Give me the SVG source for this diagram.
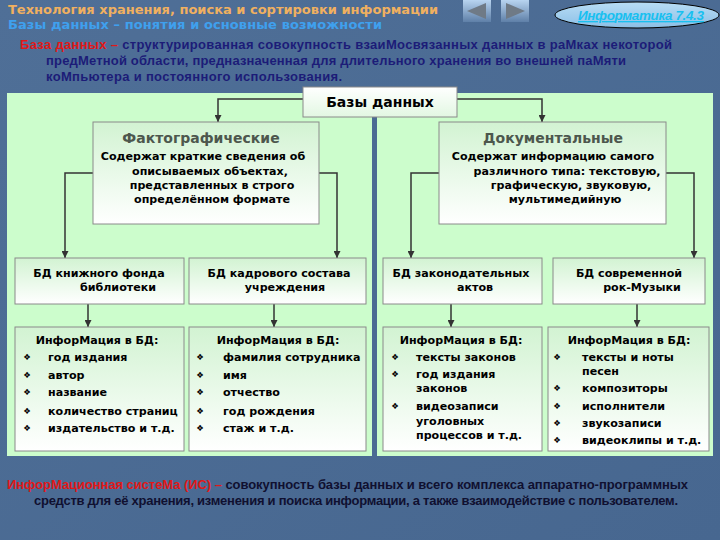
<svg xmlns="http://www.w3.org/2000/svg" width="720" height="540" viewBox="0 0 720 540">
<defs>
<linearGradient id="bg" x1="0" y1="0" x2="1" y2="1"><stop offset="0" stop-color="#4f6f97"/><stop offset="1" stop-color="#476790"/></linearGradient>
<linearGradient id="box" x1="0" y1="0" x2="0" y2="1"><stop offset="0" stop-color="#d2f3d2"/><stop offset="1" stop-color="#ffffff"/></linearGradient>
<linearGradient id="hdr" x1="0" y1="0" x2="0" y2="1"><stop offset="0" stop-color="#ffffff"/><stop offset="1" stop-color="#e2f7e2"/></linearGradient>
<linearGradient id="btn" x1="0" y1="0" x2="0" y2="1"><stop offset="0" stop-color="#b8d4f0"/><stop offset="1" stop-color="#5f80a8"/></linearGradient>
<linearGradient id="ov" x1="0" y1="0" x2="0" y2="1"><stop offset="0" stop-color="#b8ddf5"/><stop offset="1" stop-color="#8cbfe6"/></linearGradient>
<marker id="ar" viewBox="0 0 10 10" refX="10" refY="5" markerWidth="9" markerHeight="7" markerUnits="userSpaceOnUse" orient="auto"><path d="M0,0 L10,5 L0,10 z" fill="#333"/></marker>
<style>
.bx{fill:url(#box);stroke:#8a8a8a;stroke-width:1}
.t{font-family:"DejaVu Sans",sans-serif;font-weight:bold;font-size:11.1px;fill:#000}
.ti{font-family:"DejaVu Sans",sans-serif;font-weight:bold;font-size:14px;fill:#4d574d}
.b{font-family:"DejaVu Sans",sans-serif;font-size:8.5px;fill:#000}
.c{fill:none;stroke:#333;stroke-width:1.5}
.def{font-family:"Liberation Sans",sans-serif;font-weight:bold;font-size:13px;fill:#1c1c78}
.red{fill:#e01818}
</style>
</defs>
<rect width="720" height="540" fill="url(#bg)"/>

<g id="header">
<text x="8" y="14" font-family="DejaVu Sans, sans-serif" font-size="13" font-weight="bold" fill="#f0b060" textLength="430">Технология хранения, поиска и сортировки информации</text>
<text x="8" y="29" font-family="DejaVu Sans, sans-serif" font-size="13" font-weight="bold" fill="#3fa0ee" textLength="374">Базы данных – понятия и основные возможности</text>
</g>

<g id="nav">
<rect x="463" y="0" width="28" height="22" fill="url(#btn)"/>
<path d="M467,11 L486,3 L486,19 z" fill="#6f7a86"/>
<rect x="501" y="0" width="28" height="22" fill="url(#btn)"/>
<path d="M525,11 L506,3 L506,19 z" fill="#6f7a86"/>
</g>

<g id="badge">
<ellipse cx="637" cy="15" rx="82" ry="13" fill="url(#ov)" stroke="#000" stroke-width="1"/>
<text x="641" y="20" text-anchor="middle" font-family="Liberation Sans, sans-serif" font-size="13.5" font-weight="bold" font-style="italic" fill="#18c0f0" text-decoration="underline" textLength="126">Информатика  7.4.3</text>
</g>

<g id="definition">
<text x="20" y="49" class="def" textLength="652"><tspan class="red">База данных – </tspan>структурированная совокупность взаиМосвязанных данных в раМках некоторой</text>
<text x="46" y="65" class="def" textLength="580">предМетной области, предназначенная для длительного хранения во внешней паМяти</text>
<text x="46" y="81" class="def" textLength="296">коМпьютера и постоянного использования.</text>
</g>

<g id="panel">
<rect x="7" y="93" width="706" height="363" fill="#ccfdcc"/>
<rect x="372" y="117" width="5" height="339" fill="#4b6b93"/>
</g>

<g id="connectors">
<path class="c" d="M303,99 H218 V122" marker-end="url(#ar)"/>
<path class="c" d="M457,99 H542 V122" marker-end="url(#ar)"/>
<path class="c" d="M93,173 H65 V258" marker-end="url(#ar)"/>
<path class="c" d="M319,173 H337 V258" marker-end="url(#ar)"/>
<path class="c" d="M439,173 H411 V258" marker-end="url(#ar)"/>
<path class="c" d="M666,173 H694 V258" marker-end="url(#ar)"/>
<path class="c" d="M88,304 V327" marker-end="url(#ar)"/>
<path class="c" d="M274,304 V327" marker-end="url(#ar)"/>
<path class="c" d="M451,304 V327" marker-end="url(#ar)"/>
<path class="c" d="M637,304 V327" marker-end="url(#ar)"/>
</g>

<g id="root">
<rect x="303" y="87" width="154" height="30" fill="url(#hdr)" stroke="#8a8a8a"/>
<text x="380" y="107" text-anchor="middle" font-family="DejaVu Sans, sans-serif" font-weight="bold" font-size="14" fill="#000">Базы данных</text>
</g>

<g id="fact">
<rect class="bx" x="93" y="122" width="226" height="102"/>
<text class="ti" x="201" y="143" text-anchor="middle">Фактографические</text>
<text class="t" x="203" y="160" text-anchor="middle">Содержат краткие сведения об</text>
<text class="t" x="210" y="175" text-anchor="middle">описываемых объектах,</text>
<text class="t" x="212" y="189" text-anchor="middle">представленных в строго</text>
<text class="t" x="212" y="203" text-anchor="middle">определённом формате</text>
</g>

<g id="doc">
<rect class="bx" x="439" y="122" width="227" height="102"/>
<text class="ti" x="553" y="143" text-anchor="middle">Документальные</text>
<text class="t" x="553" y="160" text-anchor="middle">Содержат информацию самого</text>
<text class="t" x="567" y="175" text-anchor="middle">различного типа: текстовую,</text>
<text class="t" x="571" y="189" text-anchor="middle">графическую, звуковую,</text>
<text class="t" x="565" y="203" text-anchor="middle">мультимедийную</text>
</g>

<g id="bd1">
<rect class="bx" x="15" y="258" width="169" height="46"/>
<text class="t" x="99" y="277" text-anchor="middle">БД книжного фонда</text>
<text class="t" x="118" y="291" text-anchor="middle">библиотеки</text>
</g>
<g id="bd2">
<rect class="bx" x="189" y="258" width="177" height="46"/>
<text class="t" x="279" y="277" text-anchor="middle">БД кадрового состава</text>
<text class="t" x="285" y="291" text-anchor="middle">учреждения</text>
</g>
<g id="bd3">
<rect class="bx" x="383" y="258" width="159" height="46"/>
<text class="t" x="461" y="277" text-anchor="middle">БД законодательных</text>
<text class="t" x="475" y="291" text-anchor="middle">актов</text>
</g>
<g id="bd4">
<rect class="bx" x="553" y="258" width="152" height="46"/>
<text class="t" x="629" y="277" text-anchor="middle">БД современной</text>
<text class="t" x="642" y="291" text-anchor="middle">рок-Музыки</text>
</g>

<g id="info1">
<rect class="bx" x="15" y="327" width="169" height="124"/>
<text class="t" x="97" y="344" text-anchor="middle">ИнфорМация в БД:</text>
<text class="b" x="27" y="360" text-anchor="middle">❖</text><text class="t" x="48" y="361">год издания</text>
<text class="b" x="27" y="378" text-anchor="middle">❖</text><text class="t" x="48" y="379">автор</text>
<text class="b" x="27" y="395" text-anchor="middle">❖</text><text class="t" x="48" y="396">название</text>
<text class="b" x="27" y="414" text-anchor="middle">❖</text><text class="t" x="48" y="415">количество страниц</text>
<text class="b" x="27" y="431" text-anchor="middle">❖</text><text class="t" x="48" y="432">издательство и т.д.</text>
</g>
<g id="info2">
<rect class="bx" x="189" y="327" width="177" height="124"/>
<text class="t" x="278" y="344" text-anchor="middle">ИнфорМация в БД:</text>
<text class="b" x="200" y="360" text-anchor="middle">❖</text><text class="t" x="223" y="361">фамилия сотрудника</text>
<text class="b" x="200" y="378" text-anchor="middle">❖</text><text class="t" x="223" y="379">имя</text>
<text class="b" x="200" y="395" text-anchor="middle">❖</text><text class="t" x="223" y="396">отчество</text>
<text class="b" x="200" y="414" text-anchor="middle">❖</text><text class="t" x="223" y="415">год рождения</text>
<text class="b" x="200" y="431" text-anchor="middle">❖</text><text class="t" x="223" y="432">стаж  и т.д.</text>
</g>
<g id="info3">
<rect class="bx" x="383" y="327" width="159" height="124"/>
<text class="t" x="461" y="344" text-anchor="middle">ИнфорМация в БД:</text>
<text class="b" x="395" y="360" text-anchor="middle">❖</text><text class="t" x="416" y="361">тексты законов</text>
<text class="b" x="395" y="377" text-anchor="middle">❖</text><text class="t" x="416" y="378">год издания</text>
<text class="t" x="416" y="392">законов</text>
<text class="b" x="395" y="409" text-anchor="middle">❖</text><text class="t" x="416" y="410">видеозаписи</text>
<text class="t" x="416" y="425">уголовных</text>
<text class="t" x="416" y="439">процессов  и т.д.</text>
</g>
<g id="info4">
<rect class="bx" x="548" y="327" width="161" height="124"/>
<text class="t" x="629" y="344" text-anchor="middle">ИнфорМация в БД:</text>
<text class="b" x="557" y="360" text-anchor="middle">❖</text><text class="t" x="582" y="361">тексты и ноты</text>
<text class="t" x="582" y="375">песен</text>
<text class="b" x="557" y="391" text-anchor="middle">❖</text><text class="t" x="582" y="392">композиторы</text>
<text class="b" x="557" y="409" text-anchor="middle">❖</text><text class="t" x="582" y="410">исполнители</text>
<text class="b" x="557" y="426" text-anchor="middle">❖</text><text class="t" x="582" y="427">звукозаписи</text>
<text class="b" x="557" y="443" text-anchor="middle">❖</text><text class="t" x="582" y="444">видеоклипы  и т.д.</text>
</g>

<g id="footer">
<text x="7" y="489" font-family="Liberation Sans, sans-serif" font-weight="bold" font-size="13" fill="#101030" textLength="681"><tspan fill="#e01818">ИнфорМационная систеМа (ИС) – </tspan>совокупность базы данных и всего комплекса аппаратно-программных</text>
<text x="34" y="505" font-family="Liberation Sans, sans-serif" font-weight="bold" font-size="13" fill="#101030" textLength="644">средств для её хранения, изменения и поиска информации, а также взаимодействие с пользователем.</text>
</g>
</svg>
